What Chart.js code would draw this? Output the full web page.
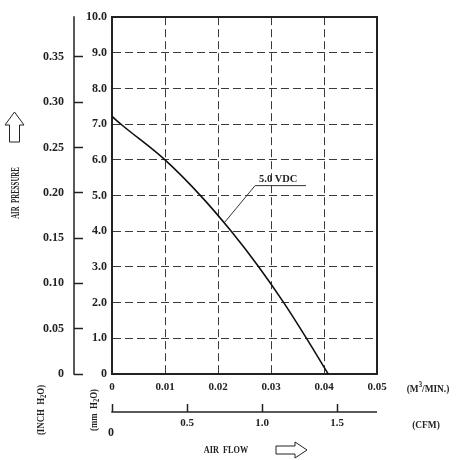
<!DOCTYPE html>
<html>
<head>
<meta charset="utf-8">
<script src="https://cdn.jsdelivr.net/npm/chart.js@4.4.1/dist/chart.umd.min.js"></script>
<style>
  body { margin: 0; background: #fff; }
  canvas { display: block; }
</style>
</head>
<body>
<canvas id="fan-chart" width="464" height="460"></canvas>
<script>
"use strict";

// P-Q curve of the fan at 5.0 VDC
const airFlow = [0, 0.0017, 0.0100, 0.0167, 0.0225, 0.0277, 0.0324, 0.0367, 0.0408];
const pressure = [7.22, 7.0, 6.0, 5.0, 4.0, 3.0, 2.0, 1.0, 0];

const flowTicks = [0, 0.01, 0.02, 0.03, 0.04, 0.05];
const mmTicks = [0, 1, 2, 3, 4, 5, 6, 7, 8, 9, 10];
const inchTicks = [0, 0.05, 0.1, 0.15, 0.2, 0.25, 0.3, 0.35];
const cfmTicks = [0, 0.5, 1.0, 1.5];

// leader line from the curve to the "5.0 VDC" label
const leaderFlow = [0.0213, 0.0270, 0.0366];
const leaderPressure = [4.26, 5.28, 5.28];
const curveLabel = "5.0 VDC";

const MM_PER_INCH = 25.4;
const M3MIN_PER_CFM = 0.0283168;

const INK = "#222";
const SERIF = "'Liberation Serif', 'DejaVu Serif', serif";

function font(size) {
  return { family: SERIF, size: size, weight: "bold" };
}

function toTicks(list) {
  return (scale) => {
    scale.ticks = list.map((v) => ({ value: v }));
  };
}

// draws a run of text pieces (some of them sub/superscript) centred on x,y
function drawText(ctx, parts, x, y, opts) {
  opts = opts || {};
  ctx.save();
  ctx.translate(x, y);
  if (opts.rotate) ctx.rotate(opts.rotate);
  ctx.scale(opts.squeeze || 1, 1);
  let total = 0;
  parts.forEach(([t, size]) => {
    ctx.font = `bold ${size}px ${SERIF}`;
    total += ctx.measureText(t).width;
  });
  let cx = opts.align === "left" ? 0 : -total / 2;
  ctx.textBaseline = "middle";
  ctx.fillStyle = INK;
  parts.forEach(([t, size, shift]) => {
    ctx.font = `bold ${size}px ${SERIF}`;
    ctx.fillText(t, cx, shift || 0);
    cx += ctx.measureText(t).width;
  });
  ctx.restore();
}

function outline(ctx, pts) {
  ctx.beginPath();
  pts.forEach(([px, py], i) => (i ? ctx.lineTo(px, py) : ctx.moveTo(px, py)));
  ctx.closePath();
  ctx.stroke();
}

const extras = {
  id: "extras",
  afterDraw(chart) {
    const ctx = chart.ctx;
    const area = chart.chartArea;
    const sc = chart.scales;
    ctx.save();
    ctx.strokeStyle = INK;
    ctx.lineWidth = 1.5;

    // inch axis spine (ticks point right from it)
    const inchX = sc.yIn.right - sc.yIn.options.grid.tickLength;
    ctx.beginPath();
    ctx.moveTo(inchX, area.top - 1);
    ctx.lineTo(inchX, sc.yIn.getPixelForValue(0) + 0.75);
    ctx.stroke();

    // CFM axis spine (ticks point up from it)
    const cfmY = sc.xCfm.top + sc.xCfm.options.grid.tickLength;
    ctx.beginPath();
    ctx.moveTo(area.left - 0.75, cfmY);
    ctx.lineTo(area.right, cfmY);
    ctx.stroke();

    drawText(ctx, [["0", 12]], area.left - 1, cfmY + 21);

    // units
    drawText(ctx, [["(M", 11], ["3", 8, -4], ["/MIN.)", 11]], area.right + 51, 389, { squeeze: 0.85 });
    drawText(ctx, [["(CFM)", 11]], area.right + 49, 425, { squeeze: 0.85 });
    drawText(ctx, [["(INCH  H", 11], ["2", 8, 3], ["O)", 11]], 41, 410, { rotate: -Math.PI / 2, squeeze: 0.8 });
    drawText(ctx, [["(mm  H", 11], ["2", 8, 3], ["O)", 11]], 94, 410, { rotate: -Math.PI / 2, squeeze: 0.8 });

    // axis titles with hollow arrows
    drawText(ctx, [["AIR  PRESSURE", 12]], 16, 193, { rotate: -Math.PI / 2, squeeze: 0.57 });
    drawText(ctx, [["AIR  FLOW", 11]], 226, 450, { squeeze: 0.75 });

    ctx.lineWidth = 1;
    outline(ctx, [[9.5, 142], [9.5, 125], [5, 125], [14.5, 112], [24, 125], [19.5, 125], [19.5, 142]]);
    outline(ctx, [[276, 446], [295, 446], [295, 442], [307, 450], [295, 458], [295, 454], [276, 454]]);

    // curve label sitting on the leader's shelf
    const lx = sc.x.getPixelForValue(leaderFlow[1]);
    const ly = sc.y.getPixelForValue(leaderPressure[1]);
    drawText(ctx, [[curveLabel, 11]], lx + 4, ly - 6, { align: "left", squeeze: 0.95 });

    ctx.restore();
  },
};

const dashedGrid = {
  display: true,
  color: "#3a3a3a",
  lineWidth: 1,
  drawTicks: false,
};
const frame = { display: true, color: INK, width: 2, dash: [8, 4] };

new Chart(document.getElementById("fan-chart"), {
  type: "scatter",
  data: {
    datasets: [
      {
        data: airFlow.map((x, i) => ({ x: x, y: pressure[i] })),
        showLine: true,
        borderColor: "#111",
        borderWidth: 1.6,
        pointRadius: 0,
        cubicInterpolationMode: "monotone",
      },
      {
        data: leaderFlow.map((x, i) => ({ x: x, y: leaderPressure[i] })),
        showLine: true,
        borderColor: "#333",
        borderWidth: 1,
        pointRadius: 0,
      },
    ],
  },
  options: {
    responsive: false,
    animation: false,
    layout: { padding: 0 },
    plugins: {
      legend: { display: false },
      tooltip: { enabled: false },
    },
    scales: {
      x: {
        type: "linear",
        position: "bottom",
        weight: 0,
        min: 0,
        max: 0.05,
        afterBuildTicks: toTicks(flowTicks),
        afterFit: (s) => { s.height = 30; },
        grid: dashedGrid,
        border: frame,
        ticks: {
          color: INK,
          font: font(11),
          padding: 7,
          maxRotation: 0,
          callback: (v) => (v === 0 ? "0" : v.toFixed(2)),
        },
      },
      xCfm: {
        type: "linear",
        position: "bottom",
        weight: 1,
        min: 0,
        max: 0.05 / M3MIN_PER_CFM,
        afterBuildTicks: toTicks(cfmTicks),
        afterFit: (s) => { s.height = 56; },
        grid: {
          display: true,
          drawOnChartArea: false,
          drawTicks: true,
          tickLength: 8,
          tickColor: INK,
          tickWidth: 1.5,
        },
        border: { display: false },
        ticks: {
          color: INK,
          font: font(11),
          padding: 5,
          maxRotation: 0,
          callback: (v) => (v === 0 ? "" : v.toFixed(1)),
        },
      },
      xTop: {
        type: "linear",
        position: "top",
        display: true,
        min: 0,
        max: 0.05,
        afterFit: (s) => { s.height = 16; },
        grid: { display: false },
        border: { display: true, color: INK, width: 2 },
        ticks: { display: false },
      },
      y: {
        type: "linear",
        position: "left",
        weight: 0,
        min: 0,
        max: 10,
        afterBuildTicks: toTicks(mmTicks),
        afterFit: (s) => { s.width = 29; },
        grid: dashedGrid,
        border: frame,
        ticks: {
          color: INK,
          font: font(12),
          padding: 5,
          callback: (v) => (v === 0 ? "0" : v.toFixed(1)),
        },
      },
      yIn: {
        type: "linear",
        position: "left",
        weight: 1,
        min: 0,
        max: 10 / MM_PER_INCH,
        afterBuildTicks: toTicks(inchTicks),
        afterFit: (s) => { s.width = 83; },
        grid: {
          display: true,
          drawOnChartArea: false,
          drawTicks: true,
          tickLength: 9,
          tickColor: INK,
          tickWidth: 1.5,
        },
        border: { display: false },
        ticks: {
          color: INK,
          font: font(12),
          padding: 10,
          callback: (v) => (v === 0 ? "0" : v.toFixed(2)),
        },
      },
      yRight: {
        type: "linear",
        position: "right",
        display: true,
        min: 0,
        max: 10,
        afterFit: (s) => { s.width = 87; },
        grid: { display: false },
        border: { display: true, color: INK, width: 2 },
        ticks: { display: false },
      },
    },
  },
  plugins: [extras],
});
</script>
</body>
</html>
